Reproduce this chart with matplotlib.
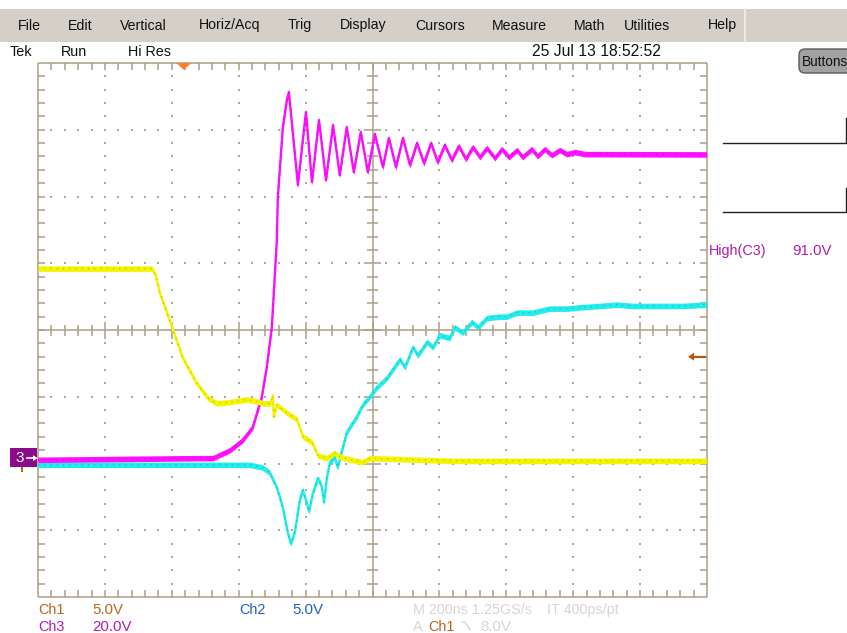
import matplotlib
matplotlib.use("Agg")
import matplotlib.pyplot as plt
from matplotlib.patches import Rectangle, FancyBboxPatch, Polygon
from matplotlib.collections import LineCollection
import numpy as np

# ---- acquisition settings ----
TIME_PER_DIV = 200.0          # ns/div
TRIG_POS_DIV = 2.18           # trigger point, divisions from left edge
CH1_SCALE, CH2_SCALE, CH3_SCALE = 5.0, 5.0, 20.0   # V/div
CH1_GND, CH2_GND, CH3_GND = -2.0, -2.0, -1.92      # ground position (div)
TRIG_LEVEL = 8.0              # V, Ch1 falling edge
HIGH_C3 = 91.0                # V

# ---- Ch1 (yellow): time in ns relative to trigger, volts ----
ch1_t = [-436, -96, -84, -72, -42, -3, 39, 72, 99, 138, 188, 227, 236, 260,
         266, 269, 278, 308, 338, 356, 383, 401, 428, 451, 466, 496, 535, 556,
         800, 1100, 1563]
ch1_v = [14.6, 14.6, 14.1, 12.8, 10.7, 7.9, 6.0, 4.9, 4.5, 4.6, 4.8, 4.6, 4.5,
         4.5, 5.1, 3.5, 4.4, 3.8, 3.3, 2.0, 1.6, 0.6, 0.4, 0.8, 0.5, 0.3, 0.1,
         0.4, 0.2, 0.2, 0.2]

# ---- Ch2 (cyan) ----
ch2_t = [-436, 197, 236, 257, 278, 296, 311, 320, 332, 347, 356, 368, 374, 386,
         401, 413, 419, 428, 437, 451, 460, 469, 487, 496, 517, 535, 556, 577,
         607, 646, 661, 685, 700, 727, 745, 765, 795, 810, 834, 861, 879, 906,
         945, 966, 996, 1043, 1094, 1145, 1184, 1244, 1295, 1342, 1393, 1444,
         1492, 1563]
ch2_v = [-0.1, -0.1, -0.3, -0.7, -1.8, -3.3, -5.2, -6.0, -5.1, -2.7, -2.0, -3.0,
         -3.6, -2.2, -1.1, -1.8, -2.9, -1.0, 0.1, 0.5, -0.3, 0.6, 2.3, 2.7, 3.5,
         4.4, 5.0, 5.7, 6.4, 7.8, 7.2, 8.7, 8.1, 9.1, 8.7, 9.6, 9.4, 10.2, 9.8,
         10.6, 10.2, 10.9, 11.0, 11.0, 11.3, 11.3, 11.6, 11.6, 11.7, 11.8, 11.9,
         11.8, 11.8, 11.8, 11.8, 11.9]

# ---- Ch3 (magenta) ----
ch3_t = [-436, 48, 87, 138, 176, 206, 233, 248, 263, 278, 281, 296, 308, 314,
         341, 365, 383, 404, 425, 446, 466, 487, 508, 529, 550, 571, 595, 613,
         634, 655, 676, 697, 718, 739, 759, 780, 801, 822, 843, 864, 885, 906,
         930, 951, 972, 996, 1013, 1040, 1058, 1079, 1100, 1124, 1145, 1169,
         1199, 1563]
ch3_v = [-0.5, 0.0, 0.0, 2.4, 5.4, 9.3, 18.3, 27.3, 39.2, 65.3, 78.2, 99.2,
         107.3, 109.7, 81.8, 103.7, 82.7, 101.3, 83.3, 99.8, 84.8, 99.2, 85.7,
         97.7, 85.7, 97.1, 87.2, 95.9, 87.2, 95.9, 87.8, 94.4, 88.4, 94.4, 88.7,
         93.8, 89.3, 93.5, 89.6, 93.2, 90.2, 92.9, 89.9, 92.6, 90.2, 92.3, 90.2,
         92.6, 90.5, 92.6, 90.8, 92.3, 91.1, 91.7, 91.1, 91.0]

# ---- colours ----
GRAT = "#a99f86"
YEL, CYN, MAG = "#f4f400", "#22ecec", "#ff10ff"
C_CH1, C_CH2, C_CH3 = "#b8661e", "#1f5fc8", "#b01cb0"
MENU_BG = "#d4d0c8"
FAINT = "#d6d6d6"

W, H = 847, 633
fig = plt.figure(figsize=(W / 100, H / 100), dpi=100)
fig.patch.set_facecolor("white")

# overlay in screen pixel coordinates for the UI chrome
ui = fig.add_axes([0, 0, 1, 1])
ui.set_xlim(0, W)
ui.set_ylim(H, 0)
ui.axis("off")

SANS = ["Liberation Sans", "DejaVu Sans"]
FS = 10.4


def label(x, y, s, color="#111111", size=FS, ha="left"):
    ui.text(x, y, s, family=SANS, fontsize=size, color=color, ha=ha, va="center")


# menu bar
ui.add_patch(Rectangle((0, 9), W, 33, facecolor=MENU_BG, edgecolor="none"))
ui.plot([745, 745], [9, 42], color="#f2f0ec", lw=1.2)
menu = [("File", 18), ("Edit", 68), ("Vertical", 120), ("Horiz/Acq", 199),
        ("Trig", 288), ("Display", 340), ("Cursors", 415), ("Measure", 492),
        ("Math", 574), ("Utilities", 624), ("Help", 708)]
for name, x in menu:
    label(x, 25.5, name, size=10.2)

# status line
for s, x in [("Tek", 10), ("Run", 61), ("Hi Res", 128)]:
    label(x, 52, s)
label(532, 52, "25 Jul 13 18:52:52", size=11.3)

# Buttons widget
ui.add_patch(FancyBboxPatch((799, 49), 60, 24, boxstyle="round,pad=0,rounding_size=6",
                            facecolor="#a2a2a2", edgecolor="#5a5a5a", lw=1.0))
label(802, 61.5, "Buttons", size=9.8)

# right-hand bracket lines
for yb, yt in [(143, 118), (212, 188)]:
    ui.plot([723, 846, 846], [yb, yb, yt], color="#222222", lw=1.0,
            solid_joinstyle="miter")

# measurement readout
label(709, 251, "High(C3)", C_CH3)
label(792, 251, f"{HIGH_C3:.1f}V", C_CH3, size=10.8)

# channel readouts
label(38, 610, "Ch1", C_CH1)
label(92, 610, f"{CH1_SCALE:.1f}V", C_CH1, size=10.8)
label(38, 627, "Ch3", C_CH3)
label(92, 627, f"{CH3_SCALE:.1f}V", C_CH3, size=10.8)
label(239, 610, "Ch2", C_CH2)
label(292, 610, f"{CH2_SCALE:.1f}V", C_CH2, size=10.8)
label(413, 610, f"M {TIME_PER_DIV:.0f}ns 1.25GS/s", FAINT)
label(547, 610, "IT 400ps/pt", FAINT)
label(413, 627, "A", FAINT)
label(428, 627, "Ch1", C_CH1)
ui.plot([462, 465, 470], [622, 622, 630], color=FAINT, lw=1.0)
label(480, 627, f"{TRIG_LEVEL:.1f}V", FAINT, size=10.8)

# ---- graticule area ----
GL, GR, GT, GB = 38, 707, 63, 597
ax = fig.add_axes([GL / W, 1 - GB / H, (GR - GL) / W, (GB - GT) / H])
ax.set_xlim(0, 10)
ax.set_ylim(-4, 4)
ax.axis("off")
ax.patch.set_alpha(0)
pxx = (GR - GL) / 10.0   # pixels per horizontal division
pxy = (GB - GT) / 8.0    # pixels per vertical division

segs = []
# border
segs += [[(0, -4), (10, -4)], [(0, 4), (10, 4)], [(0, -4), (0, 4)], [(10, -4), (10, 4)]]
# centre cross
segs += [[(0, 0), (10, 0)], [(5, -4), (5, 4)]]
xm = np.round(np.arange(0, 10.001, 0.2), 3)
ym = np.round(np.arange(-4, 4.001, 0.2), 3)
bt_x, bt_y = 7 / pxx, 7 / pxy
for x in xm[1:-1]:
    segs.append([(x, 4), (x, 4 - bt_y)])
    segs.append([(x, -4), (x, -4 + bt_y)])
    major = abs(x - round(x)) < 1e-6
    t = (8.5 if major else 5.5) / pxy
    segs.append([(x, -t), (x, t)])
for y in ym[1:-1]:
    segs.append([(0, y), (bt_x, y)])
    segs.append([(10, y), (10 - bt_x, y)])
    major = abs(y - round(y)) < 1e-6
    t = (8.5 if major else 5.5) / pxx
    segs.append([(5 - t, y), (5 + t, y)])
ax.add_collection(LineCollection(segs, colors=GRAT, linewidths=1.1, clip_on=False,
                                 zorder=1))

# dotted division lines
dx, dy = [], []
for gx in [1, 2, 3, 4, 6, 7, 8, 9]:
    for y in ym[1:-1]:
        dx.append(gx); dy.append(y)
for gy in [-3, -2, -1, 1, 2, 3]:
    for x in xm[1:-1]:
        dx.append(x); dy.append(gy)
ax.scatter(dx, dy, s=1.6, c="#a8a8a0", marker="s", linewidths=0, zorder=1)


def to_div(t):
    return np.asarray(t, float) / TIME_PER_DIV + TRIG_POS_DIV


def draw_trace(t, v, scale, gnd, color, shade, z):
    x = to_div(t)
    y = np.asarray(v, float) / scale + gnd
    hw = 2.8 / pxy
    ax.fill_between(x, y - hw, y + hw, color=color, lw=0, zorder=z)
    ax.plot(x, y, color=color, lw=1.7, zorder=z + 0.1, solid_joinstyle="round")
    # intensity-graded speckle along the trace centre
    ax.plot(x, y, color=shade, lw=0.9, alpha=0.45, zorder=z + 0.2,
            linestyle=(0, (0.8, 4.2)))


draw_trace(ch2_t, ch2_v, CH2_SCALE, CH2_GND, CYN, "#1a6a6a", 3)
draw_trace(ch3_t, ch3_v, CH3_SCALE, CH3_GND, MAG, "#7a107a", 4)
draw_trace(ch1_t, ch1_v, CH1_SCALE, CH1_GND, YEL, "#6a6a10", 5)

# ---- markers around the graticule (pixel overlay) ----
ui.set_zorder(ax.get_zorder() + 1)
ui.patch.set_alpha(0)
# trigger position
tx = GL + TRIG_POS_DIV * pxx
ui.add_patch(Polygon([(tx - 7.5, GT), (tx + 7.5, GT), (tx, GT + 7)], closed=True,
                     facecolor="#ff7f2a", edgecolor="none"))
# Ch3 ground marker
gy3 = 330 - CH3_GND * pxy
ui.add_patch(Rectangle((10, gy3 - 10), 27, 19, facecolor="#8a0a8a", edgecolor="none"))
ui.text(20, gy3 - 0.5, "3", family=SANS, fontsize=11, color="white",
        ha="center", va="center")
ui.plot([27, 34], [gy3, gy3], color="white", lw=1.2)
ui.add_patch(Polygon([(33, gy3 - 3), (37.5, gy3), (33, gy3 + 3)], closed=True,
                     facecolor="white", edgecolor="none"))
ui.plot([22, 22], [gy3 + 9.5, gy3 + 13], color=C_CH1, lw=1.5)
# trigger level marker
ty = 330 - (TRIG_LEVEL / CH1_SCALE + CH1_GND) * pxy
ui.plot([692, 705], [ty, ty], color="#b05a12", lw=1.6)
ui.add_patch(Polygon([(688, ty), (694, ty - 4), (694, ty + 4)], closed=True,
                     facecolor="#b05a12", edgecolor="none"))

fig.savefig("out.png", dpi=100, facecolor="white")
